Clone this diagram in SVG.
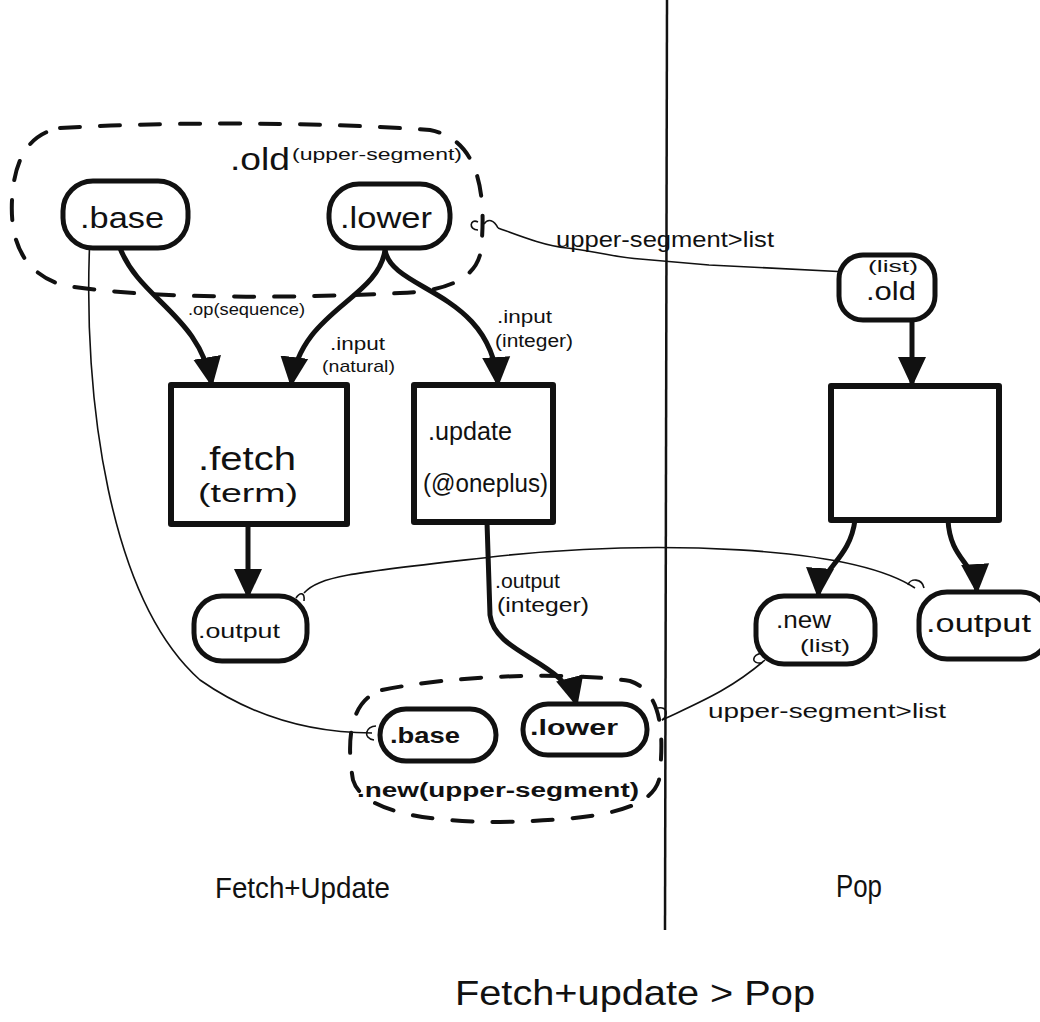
<svg xmlns="http://www.w3.org/2000/svg" width="1040" height="1022" viewBox="0 0 1040 1022">
  <defs>
    <marker id="head" markerUnits="userSpaceOnUse" viewBox="0 0 30 30" refX="29" refY="15" markerWidth="30" markerHeight="30" orient="auto">
      <path d="M0,1 L30,15 L0,29 Z" fill="#111"/>
    </marker>
    <style>
      .t { font-family: "Liberation Sans", "DejaVu Sans", sans-serif; fill: #111; }
      .b { font-weight: bold; }
      .node { fill: #fff; stroke: #111; stroke-width: 5; }
      .box { fill: #fff; stroke: #111; stroke-width: 6; stroke-linejoin: round; }
      .group { fill: none; stroke: #111; stroke-width: 4; stroke-dasharray: 20 20; stroke-linecap: round; }
      .flow { fill: none; stroke: #111; stroke-width: 5; marker-end: url(#head); }
      .link { fill: none; stroke: #111; stroke-width: 1.6; }
      .rule { stroke: #111; stroke-width: 2.5; }
    </style>
  </defs>

  <rect width="1040" height="1022" fill="#fff"/>

  <!-- divider between the two halves -->
  <line class="rule" x1="667" y1="0" x2="665" y2="930"/>

  <!-- dashed groups -->
  <g id="old-group">
    <path class="group" d="M60,128 C200,120 350,124 430,130 C482,140 486,200 481,250 C476,285 432,292 400,293 C300,298 150,300 62,285 C22,272 10,240 12,200 C14,160 28,134 60,128 Z"/>
    <text class="t" x="230" y="170" font-size="32" textLength="60" lengthAdjust="spacingAndGlyphs">.old</text>
    <text class="t" x="292" y="160" font-size="17" textLength="170" lengthAdjust="spacingAndGlyphs">(upper-segment)</text>
  </g>
  <g id="new-group">
    <path class="group" d="M382,690 C450,676 560,671 630,681 C664,692 664,740 659,780 C650,810 600,820 500,822 C420,822 362,810 353,780 C346,740 350,700 382,690 Z"/>
    <text class="t b" x="357" y="797" font-size="20" textLength="282" lengthAdjust="spacingAndGlyphs">.new(upper-segment)</text>
  </g>

  <!-- connectors -->
  <g id="connectors">
    <path class="flow" d="M120,248 C140,300 200,315 212,386"/>
    <path class="flow" d="M385,250 C378,300 300,310 291,386"/>
    <path class="flow" d="M385,250 C392,292 492,290 498,386"/>
    <path class="flow" d="M248,525 L248,598"/>
    <path class="flow" d="M487,522 L490,615 C495,655 565,660 577,706"/>
    <path class="flow" d="M912,320 L912,386"/>
    <path class="flow" d="M855,520 C850,560 820,568 818,597"/>
    <path class="flow" d="M948,520 C950,560 975,562 977,593"/>

    <!-- thin type links with hook ends -->
    <path class="link" d="M90,236 C82,400 110,600 200,680 C260,722 320,733 372,733"/>
    <path class="link" d="M96,226 C86,224 84,236 92,240"/>
    <path class="link" d="M376,726 C366,726 362,738 374,740 M380,733 L388,728"/>

    <path class="link" d="M304,593 C320,575 360,572 500,556 C650,540 850,545 915,588"/>
    <path class="link" d="M296,598 C300,592 305,592 304,601"/>
    <path class="link" d="M908,585 C910,578 922,578 924,588"/>

    <path class="link" d="M498,228 C520,236 545,246 567,248 C600,252 620,258 640,259 L709,265 L848,272"/>
    <path class="link" d="M478,222 C470,218 468,230 478,230 M484,224 C488,218 494,220 498,228"/>
    <path class="link" d="M852,268 C844,268 842,280 852,281"/>

    <path class="link" d="M662,720 C700,702 730,690 765,660"/>
    <path class="link" d="M658,708 C668,706 668,716 662,720"/>
    <path class="link" d="M762,653 C752,655 750,664 762,663"/>
  </g>

  <!-- left half nodes -->
  <g id="base-old">
    <rect class="node" x="63" y="181" width="125" height="67" rx="30"/>
    <text class="t" x="80" y="228" font-size="30" textLength="84" lengthAdjust="spacingAndGlyphs">.base</text>
  </g>
  <g id="lower-old">
    <rect class="node" x="329" y="184" width="121" height="64" rx="30"/>
    <text class="t" x="340" y="228" font-size="30" textLength="92" lengthAdjust="spacingAndGlyphs">.lower</text>
  </g>

  <g id="fetch">
    <rect class="box" x="171" y="385" width="176" height="139"/>
    <text class="t" x="198" y="470" font-size="34" textLength="98" lengthAdjust="spacingAndGlyphs">.fetch</text>
    <text class="t" x="198" y="502" font-size="26" textLength="100" lengthAdjust="spacingAndGlyphs">(term)</text>
  </g>
  <g id="update">
    <rect class="box" x="414" y="385" width="139" height="137"/>
    <text class="t" x="428" y="440" font-size="26" textLength="84" lengthAdjust="spacingAndGlyphs">.update</text>
    <text class="t" x="423" y="492" font-size="26" textLength="125" lengthAdjust="spacingAndGlyphs">(@oneplus)</text>
  </g>

  <g id="output-left">
    <rect class="node" x="194" y="596" width="113" height="65" rx="28"/>
    <text class="t" x="198" y="638" font-size="21" textLength="82" lengthAdjust="spacingAndGlyphs">.output</text>
  </g>

  <g id="base-new">
    <rect class="node" x="380" y="709" width="116" height="52" rx="26"/>
    <text class="t b" x="390" y="743" font-size="22" textLength="70" lengthAdjust="spacingAndGlyphs">.base</text>
  </g>
  <g id="lower-new">
    <rect class="node" x="523" y="704" width="124" height="51" rx="25"/>
    <text class="t b" x="530" y="735" font-size="22" textLength="88" lengthAdjust="spacingAndGlyphs">.lower</text>
  </g>

  <!-- right half nodes -->
  <g id="old-right">
    <rect class="node" x="839" y="255" width="96" height="65" rx="24"/>
    <text class="t" x="868" y="272" font-size="17" textLength="50" lengthAdjust="spacingAndGlyphs">(list)</text>
    <text class="t" x="866" y="300" font-size="26" textLength="50" lengthAdjust="spacingAndGlyphs">.old</text>
  </g>
  <g id="pop-box">
    <rect class="box" x="831" y="386" width="168" height="134"/>
  </g>
  <g id="new-right">
    <rect class="node" x="756" y="596" width="119" height="68" rx="28"/>
    <text class="t" x="776" y="628" font-size="24" textLength="55" lengthAdjust="spacingAndGlyphs">.new</text>
    <text class="t" x="800" y="652" font-size="18" textLength="50" lengthAdjust="spacingAndGlyphs">(list)</text>
  </g>
  <g id="output-right">
    <rect class="node" x="919" y="592" width="130" height="67" rx="28"/>
    <text class="t" x="926" y="632" font-size="26" textLength="105" lengthAdjust="spacingAndGlyphs">.output</text>
  </g>

  <!-- edge labels -->
  <g id="labels">
    <text class="t" x="188" y="315" font-size="17" textLength="117" lengthAdjust="spacingAndGlyphs">.op(sequence)</text>
    <text class="t" x="330" y="350" font-size="18" textLength="55" lengthAdjust="spacingAndGlyphs">.input</text>
    <text class="t" x="322" y="372" font-size="17" textLength="73" lengthAdjust="spacingAndGlyphs">(natural)</text>
    <text class="t" x="497" y="323" font-size="18" textLength="55" lengthAdjust="spacingAndGlyphs">.input</text>
    <text class="t" x="495" y="347" font-size="18" textLength="78" lengthAdjust="spacingAndGlyphs">(integer)</text>
    <text class="t" x="495" y="588" font-size="20" textLength="65" lengthAdjust="spacingAndGlyphs">.output</text>
    <text class="t" x="497" y="612" font-size="20" textLength="92" lengthAdjust="spacingAndGlyphs">(integer)</text>
    <text class="t" x="556" y="247" font-size="22" textLength="218" lengthAdjust="spacingAndGlyphs">upper-segment&gt;list</text>
    <text class="t" x="708" y="718" font-size="21" textLength="238" lengthAdjust="spacingAndGlyphs">upper-segment&gt;list</text>
  </g>

  <!-- captions -->
  <g id="captions">
    <text class="t" x="215" y="898" font-size="30" textLength="175" lengthAdjust="spacingAndGlyphs">Fetch+Update</text>
    <text class="t" x="836" y="897" font-size="32" textLength="46" lengthAdjust="spacingAndGlyphs">Pop</text>
    <text class="t" x="455" y="1005" font-size="35" textLength="360" lengthAdjust="spacingAndGlyphs">Fetch+update &gt; Pop</text>
  </g>
</svg>
